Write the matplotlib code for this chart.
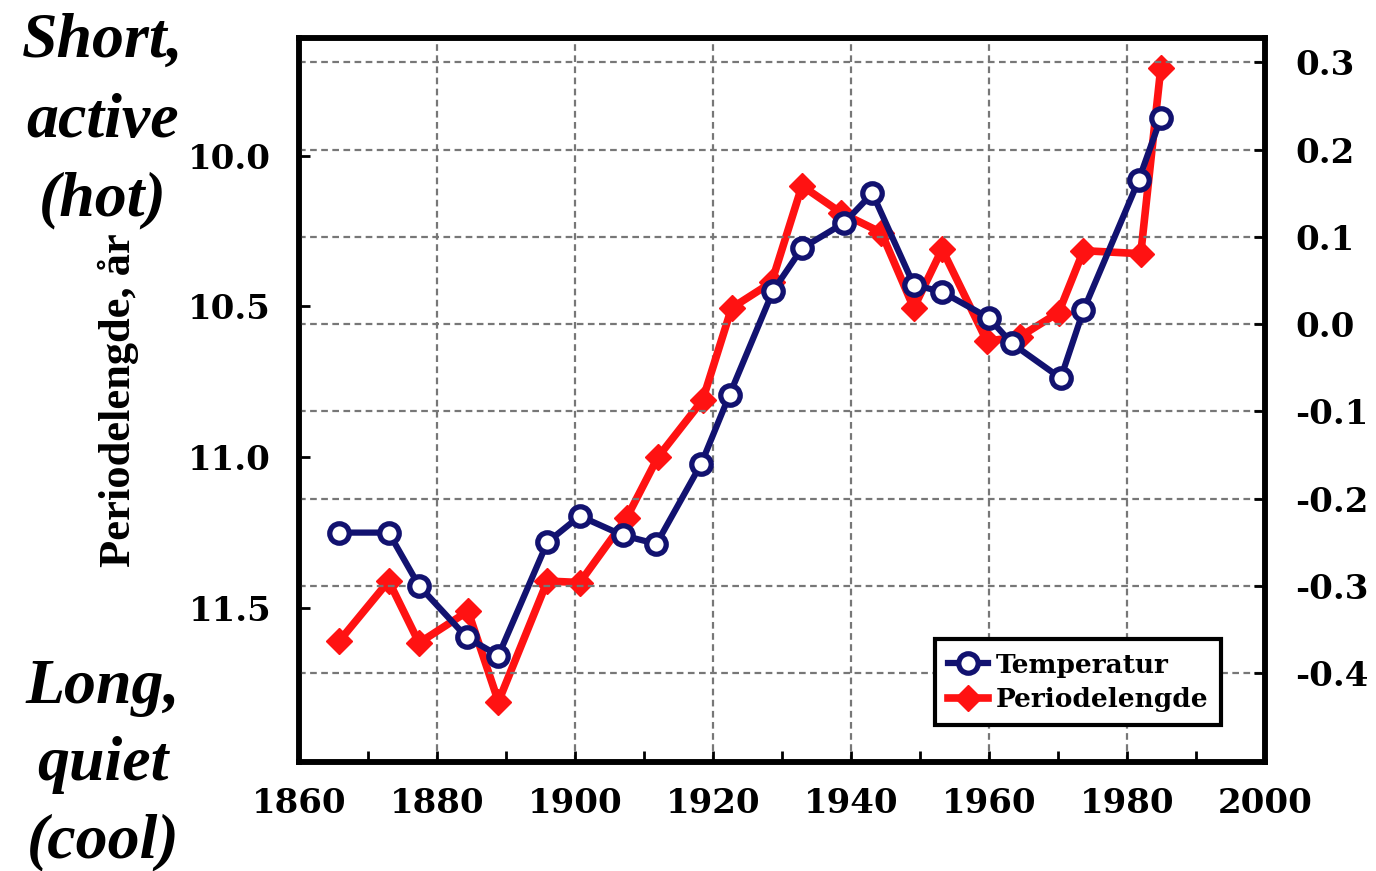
import matplotlib
matplotlib.use("Agg")
import matplotlib.pyplot as plt
from matplotlib.ticker import MultipleLocator

# solperiodens lengde (venstre akse, snudd) og temperatur (høyre akse)
aar_temp = [1865.8, 1873.0, 1877.4, 1884.3, 1888.9, 1896.0, 1900.7, 1906.9,
            1911.8, 1918.3, 1922.4, 1928.7, 1932.9, 1939.0, 1943.1, 1949.1,
            1953.2, 1960.0, 1963.3, 1970.4, 1973.7, 1981.7, 1984.9]
temperatur = [-0.239, -0.239, -0.300, -0.359, -0.380, -0.250, -0.220, -0.242,
              -0.252, -0.160, -0.081, 0.038, 0.087, 0.116, 0.150, 0.045,
              0.037, 0.007, -0.022, -0.062, 0.016, 0.165, 0.236]

aar_periode = [1865.8, 1873.0, 1877.4, 1884.5, 1888.9, 1896.0, 1900.7, 1907.5,
               1912.0, 1918.5, 1922.7, 1928.5, 1932.9, 1938.6, 1944.4, 1949.1,
               1953.2, 1959.7, 1964.5, 1970.1, 1973.7, 1982.0, 1984.9]
periodelengde = [11.61, 11.41, 11.615, 11.51, 11.81, 11.41, 11.415, 11.20,
                 11.00, 10.81, 10.505, 10.42, 10.10, 10.19, 10.255, 10.505,
                 10.31, 10.615, 10.60, 10.52, 10.315, 10.325, 9.71]

left_ticks = [10.0, 10.5, 11.0, 11.5]
right_ticks = [0.3, 0.2, 0.1, 0.0, -0.1, -0.2, -0.3, -0.4]
x_ticks = [1860, 1880, 1900, 1920, 1940, 1960, 1980, 2000]

blue = '#121270'
red = '#ff1212'
tick_font = dict(family='DejaVu Serif', weight='bold', size=24.5)

fig = plt.figure(figsize=(13.76, 8.71), dpi=100)
ax = fig.add_axes([0.2173, 0.1251, 0.7020, 0.8313])
ax2 = ax.twinx()

# rød: periodelengde
l2, = ax.plot(aar_periode, periodelengde, color=red, lw=5.5, marker='D',
              ms=13, mfc=red, mec=red, label='Periodelengde')
ax.set_xlim(1860, 2000)
ax.set_ylim(12.01, 9.61)
ax.set_yticks(left_ticks)
ax.set_yticklabels(['%.1f' % v for v in left_ticks], fontdict=tick_font)
ax.set_xticks(x_ticks)
ax.set_xticklabels([str(v) for v in x_ticks], fontdict=tick_font)
ax.xaxis.set_minor_locator(MultipleLocator(10))
ax.tick_params(axis='both', which='both', direction='in', length=8, width=2)
ax.tick_params(axis='y', pad=20)
ax.tick_params(axis='x', pad=18)
ax.grid(axis='x', color='#777777', lw=1.6, ls=(0, (3, 2)))

# blå: temperatur
l1, = ax2.plot(aar_temp, temperatur, color=blue, lw=4.5, marker='o', ms=14,
               mfc='white', mec=blue, mew=3.8, label='Temperatur')
ax2.set_ylim(-0.502, 0.328)
ax2.set_yticks(right_ticks)
ax2.set_yticklabels(['%.1f' % v for v in right_ticks], fontdict=tick_font)
ax2.tick_params(axis='y', direction='in', length=8, width=2, pad=22)
ax2.grid(axis='y', color='#777777', lw=1.6, ls=(0, (3, 2)))

for a in (ax, ax2):
    for s in a.spines.values():
        s.set_linewidth(4)
        s.set_color('black')

leg = ax2.legend(handles=[l1, l2], loc='lower right',
                 bbox_to_anchor=(0.955, 0.051), borderaxespad=0,
                 prop=dict(family='DejaVu Serif', weight='bold', size=19),
                 handlelength=1.5, handletextpad=0.3, labelspacing=0.35,
                 borderpad=0.5, fancybox=False, framealpha=1,
                 edgecolor='black')
leg.get_frame().set_linewidth(3)

fig.text(0.086, 0.541, 'Periodelengde, år', rotation=90, ha='center',
         va='center', family='Liberation Serif', weight='bold', size=32)

side = dict(family='Liberation Serif', weight='bold', style='italic',
            size=46, ha='center', va='center')
for txt, y in [('Short,', 42), ('active', 122), ('(hot)', 200),
               ('Long,', 688), ('quiet', 765), ('(cool)', 842)]:
    fig.text(103 / 1376, 1 - y / 871, txt, **side)

fig.savefig('out.png', dpi=100)
